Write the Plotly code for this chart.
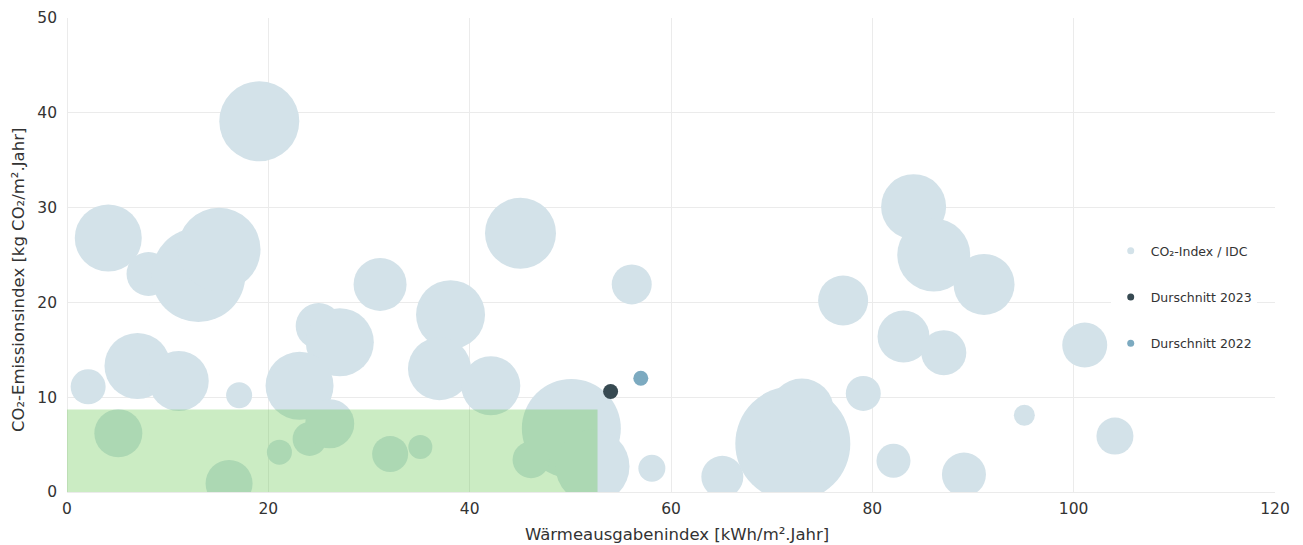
import plotly.graph_objects as go

# Bubble data: Wärmeausgabenindex (x), CO2-Emissionsindex (y), bubble magnitude (IDC)
heat_index = [19.1, 4.1, 8.1, 13.05, 15.1, 31.1, 45.05, 38.1, 25.0, 27.1, 7.0, 11.1,
              2.1, 17.1, 23.1, 37.0, 42.1, 56.1, 50.1, 52.2, 46.1, 58.1, 65.1, 72.1,
              73.0, 84.1, 86.1, 91.1, 77.1, 83.1, 87.1, 101.1, 79.1, 95.1, 104.1, 82.1,
              89.1, 5.1, 16.1, 21.1, 24.1, 26.1, 32.1, 35.1]
co2_index = [39.1, 26.8, 23.0, 22.9, 25.6, 21.9, 27.3, 18.7, 17.5, 15.8, 13.3, 11.7,
             11.1, 10.2, 11.2, 13.0, 11.2, 21.9, 6.7, 2.7, 3.4, 2.5, 1.6, 5.1,
             8.6, 30.1, 25.0, 21.9, 20.2, 16.4, 14.7, 15.5, 10.4, 8.1, 5.9, 3.3,
             1.85, 6.2, 0.9, 4.2, 5.6, 7.2, 4.0, 4.75]
idc_value = [80, 67, 44, 94, 83, 53, 71, 69, 46, 68, 66, 60,
             35, 26, 68, 63, 59, 40, 99, 74, 37, 27, 42, 115,
             64, 65, 73, 61, 50, 52, 45, 45, 35, 21, 37, 34,
             44, 48, 47, 25, 34, 49, 36, 24]

avg_2023 = (54.0, 10.6)
avg_2022 = (57.0, 12.0)

# Target zone (green rectangle)
zone_x = (0, 52.7)
zone_y = (0, 8.7)

legend_names = ["CO₂-Index / IDC", "Durschnitt 2023", "Durschnitt 2022"]
x_ticks = [0, 20, 40, 60, 80, 100, 120]
y_ticks = [0, 10, 20, 30, 40, 50]
x_title = "Wärmeausgabenindex [kWh/m².Jahr]"
y_title = "CO₂-Emissionsindex [kg CO₂/m².Jahr]"

C_BUBBLE = "#d3e2e9"
C_2023 = "#374a52"
C_2022 = "#7caac0"
FONT = "DejaVu Sans"
TXT = "#333333"
GRID = "#ebebeb"

fig = go.Figure()

fig.add_trace(go.Scatter(
    x=heat_index, y=co2_index, mode="markers", showlegend=False,
    marker=dict(size=idc_value, sizemode="diameter", sizeref=1,
                color=C_BUBBLE, line=dict(width=0), opacity=1),
    hoverinfo="skip"))
fig.add_trace(go.Scatter(
    x=[avg_2023[0]], y=[avg_2023[1]], mode="markers", showlegend=False,
    marker=dict(size=15, color=C_2023, line=dict(width=0))))
fig.add_trace(go.Scatter(
    x=[avg_2022[0]], y=[avg_2022[1]], mode="markers", showlegend=False,
    marker=dict(size=15, color=C_2022, line=dict(width=0))))

# legend entries
for name, col in zip(legend_names, [C_BUBBLE, C_2023, C_2022]):
    fig.add_trace(go.Scatter(
        x=[None], y=[None], mode="markers", name=name, legendgroup=name,
        marker=dict(size=7, color=col, line=dict(width=0))))

fig.add_shape(type="rect", xref="x", yref="y",
              x0=zone_x[0], x1=zone_x[1], y0=zone_y[0], y1=zone_y[1],
              fillcolor="rgba(82,192,55,0.3)", line=dict(width=0), layer="above")

fig.add_annotation(text=x_title, xref="paper", yref="paper", x=0.505, y=0,
                   yshift=-42, xanchor="center", yanchor="middle", showarrow=False,
                   font=dict(size=16.5, color=TXT, family=FONT))
fig.add_annotation(text=y_title, xref="paper", yref="paper", x=-0.0406, y=0.447,
                   xanchor="center", yanchor="middle", textangle=-90, showarrow=False,
                   font=dict(size=16.5, color=TXT, family=FONT))

fig.update_layout(
    width=1295, height=537,
    margin=dict(l=59, r=28, t=10, b=53, autoexpand=False),
    paper_bgcolor="white", plot_bgcolor="white",
    font=dict(family=FONT, color=TXT, size=15.5),
    legend=dict(x=0.864, y=0.411, xanchor="left", yanchor="middle",
                bgcolor="white", font=dict(size=12.5, color=TXT, family=FONT),
                tracegroupgap=27, itemwidth=30),
    xaxis=dict(range=[0, 120], tickvals=x_ticks, showgrid=True, gridcolor=GRID,
               gridwidth=1, zeroline=True, zerolinecolor=GRID, zerolinewidth=1,
               showline=False, ticks="", tickfont=dict(size=15.5, color=TXT),
               ticklabelstandoff=5, automargin=False),
    yaxis=dict(range=[0, 50], tickvals=y_ticks, showgrid=True, gridcolor=GRID,
               gridwidth=1, zeroline=True, zerolinecolor=GRID, zerolinewidth=1,
               showline=False, ticks="", tickfont=dict(size=15.5, color=TXT),
               ticklabelstandoff=9, automargin=False),
)

fig.write_html("out.html")
